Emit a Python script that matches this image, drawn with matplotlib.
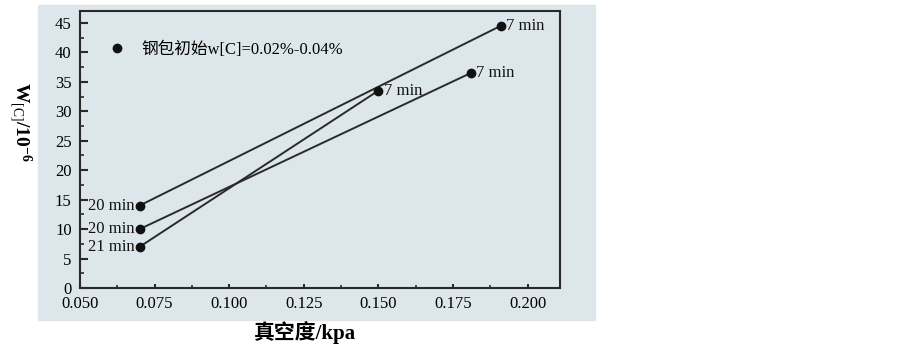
import matplotlib
matplotlib.use("Agg")
import matplotlib.pyplot as plt
import matplotlib.patches as ptc
from matplotlib.lines import Line2D
from matplotlib.ticker import MultipleLocator, FormatStrFormatter

plt.rcParams["font.family"] = ["Liberation Serif", "Noto Sans CJK SC"]
plt.rcParams["mathtext.fontset"] = "custom"
plt.rcParams["mathtext.rm"] = "Liberation Serif"
plt.rcParams["mathtext.bf"] = "Liberation Serif:bold"

# vacuum (kpa) and w[C] (1e-6) at start / end of each run
vacuum_start = [0.070, 0.070, 0.070]
vacuum_end = [0.191, 0.181, 0.150]
carbon_start = [14.0, 10.0, 7.0]
carbon_end = [44.5, 36.5, 33.5]
time_start = ["20 min", "20 min", "21 min"]
time_end = ["7 min", "7 min", "7 min"]
legend_label = "钢包初始w[C]=0.02%-0.04%"

BG = "#dde6ea"
INK = "#2a2a2a"

fig = plt.figure(figsize=(9.03, 3.47), dpi=100)
bg = ptc.Rectangle((0.042, 0.078), 0.617, 0.908, transform=fig.transFigure,
                   color=BG, zorder=-5)
fig.add_artist(bg)
ax = fig.add_axes([0.0886, 0.170, 0.532, 0.798])
ax.set_zorder(1)
ax.set_facecolor(BG)

for x0, x1, y0, y1, t0, t1 in zip(vacuum_start, vacuum_end, carbon_start,
                                  carbon_end, time_start, time_end):
    ax.plot([x0, x1], [y0, y1], color=INK, lw=1.4, marker="o", ms=6,
            mfc="#111111", mec="#111111")
    ax.annotate(t0, (x0, y0), xytext=(-4, 0), textcoords="offset points",
                ha="right", va="center", fontsize=12, color="#111111")
    ax.annotate(t1, (x1, y1), xytext=(4, 0), textcoords="offset points",
                ha="left", va="center", fontsize=12, color="#111111")

handle = Line2D([], [], ls="none", marker="o", ms=6, mfc="#111111", mec="#111111")
ax.legend([handle], [legend_label], loc="upper left", bbox_to_anchor=(0.029, 0.945),
          frameon=False, fontsize=12, handlelength=1.0, handletextpad=0.95)

ax.set_xlim(0.05, 0.211)
ax.set_ylim(0, 47)
ax.xaxis.set_major_locator(MultipleLocator(0.025))
ax.xaxis.set_minor_locator(MultipleLocator(0.0125))
ax.yaxis.set_major_locator(MultipleLocator(5))
ax.yaxis.set_minor_locator(MultipleLocator(2.5))
ax.xaxis.set_major_formatter(FormatStrFormatter("%.3f"))
ax.tick_params(which="both", direction="in", top=False, right=False,
               labelsize=12, color=INK)
ax.tick_params(axis="y", which="major", length=6, width=1.5, pad=6)
ax.tick_params(axis="y", which="minor", length=3, width=1.2)
ax.tick_params(axis="x", which="major", length=3, width=1.5, pad=6)
ax.tick_params(axis="x", which="minor", length=2, width=1.2)
for s in ax.spines.values():
    s.set_color(INK)
    s.set_linewidth(1.5)

ax.set_xlabel("真空度/kpa", fontsize=15, fontweight="bold", va="center",
              family=["Liberation Serif", "Noto Sans CJK SC"])
ax.xaxis.set_label_coords(0.469, -0.162)
ax.set_ylabel(r"$\mathbf{W}_{\mathrm{[C]}}\mathbf{/10^{-6}}$", fontsize=14,
              rotation=270, va="center")
ax.yaxis.set_label_coords(-0.125, 0.60)

fig.savefig("out.png", dpi=100, facecolor="white")
